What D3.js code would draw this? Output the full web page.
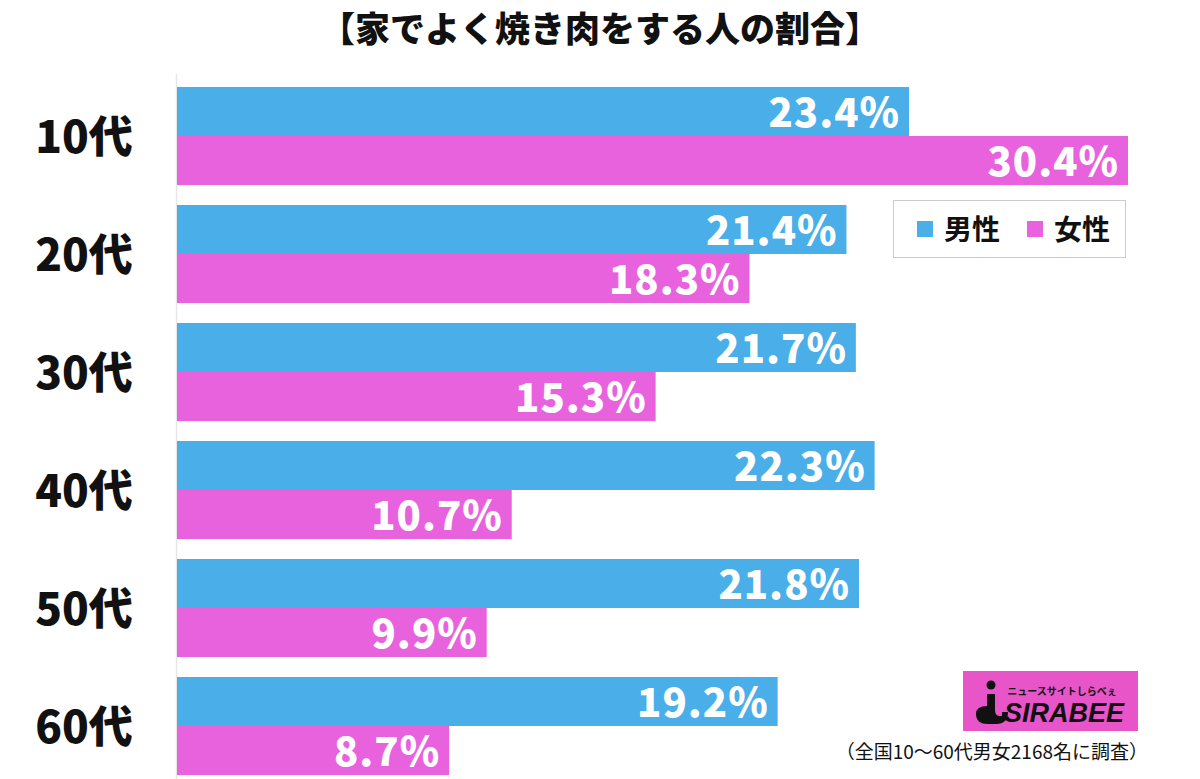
<!DOCTYPE html>
<html><head><meta charset="utf-8">
<script src="https://cdn.jsdelivr.net/npm/d3@7/dist/d3.min.js"></script>
<style>body{margin:0;background:#fff;}svg{display:block;}</style>
</head><body>
<script>
const title = "【家でよく焼き肉をする人の割合】";
const categories = ["10代","20代","30代","40代","50代","60代"];
const seriesNames = ["男性","女性"];
const male = [23.4, 21.4, 21.7, 22.3, 21.8, 19.2];
const female = [30.4, 18.3, 15.3, 10.7, 9.9, 8.7];
const colors = ["#4aaee8", "#e862de"];
const footnote = "（全国10〜60代男女2168名に調査）";

const W = 1200, H = 779;
const svg = d3.select("body").append("svg").attr("width", W).attr("height", H);
const FONT = "'Noto Sans CJK JP','Noto Sans',sans-serif";

const x = d3.scaleLinear().domain([0, 30.4]).range([177, 1128]);
const y0 = d3.scaleBand().domain(categories).range([87, 775]).paddingInner(20/118).paddingOuter(0);
const y1 = d3.scaleBand().domain(seriesNames).range([0, y0.bandwidth()]);

// axis line
svg.append("line").attr("x1", 176.5).attr("x2", 176.5).attr("y1", 74).attr("y2", H)
  .attr("stroke", "#e6e6e6").attr("stroke-width", 1.5);

// title
svg.append("text").attr("x", 600).attr("y", 42).attr("text-anchor", "middle")
  .attr("font-family", FONT).attr("font-weight", 900).attr("font-size", 35).attr("fill", "#111")
  .text(title);

const data = categories.map((c, i) => ({cat: c, vals: [male[i], female[i]]}));
const g = svg.selectAll("g.grp").data(data).join("g").attr("class", "grp")
  .attr("transform", d => `translate(0,${y0(d.cat)})`);

g.selectAll("rect").data(d => d.vals.map((v, j) => ({v, s: seriesNames[j], j})))
  .join("rect")
  .attr("x", x(0)).attr("y", d => y1(d.s)).attr("width", d => x(d.v) - x(0))
  .attr("height", y1.bandwidth()).attr("fill", d => colors[d.j]);

g.selectAll("text.val").data(d => d.vals.map((v, j) => ({v, s: seriesNames[j], j})))
  .join("text").attr("class", "val")
  .attr("x", d => x(d.v) - 9).attr("y", d => y1(d.s) + y1.bandwidth()/2 + 15)
  .attr("text-anchor", "end").attr("fill", "#fff")
  .attr("font-family", FONT).attr("font-weight", 900).attr("font-size", 40)
  .attr("letter-spacing", 1)
  .text(d => d.v.toFixed(1) + "%");

g.append("text").attr("x", 84).attr("y", y0.bandwidth()/2 + 17)
  .attr("text-anchor", "middle").attr("fill", "#111")
  .attr("font-family", FONT).attr("font-weight", 900).attr("font-size", 44)
  .text(d => d.cat);

// legend
const lg = svg.append("g");
lg.append("rect").attr("x", 893.5).attr("y", 200.5).attr("width", 232).attr("height", 57)
  .attr("fill", "#fff").attr("stroke", "#999").attr("stroke-width", 1).attr("stroke-dasharray", "1,1");
seriesNames.forEach((s, i) => {
  const lx = 917 + i * 110;
  lg.append("rect").attr("x", lx).attr("y", 221).attr("width", 16).attr("height", 16).attr("fill", colors[i]);
  lg.append("text").attr("x", lx + 27).attr("y", 240).attr("font-family", FONT).attr("font-weight", 700)
    .attr("font-size", 28).attr("fill", "#111").text(s);
});

// logo
const lo = svg.append("g");
lo.append("rect").attr("x", 963).attr("y", 671).attr("width", 175).attr("height", 60).attr("fill", "#e855c8");
lo.append("circle").attr("cx", 991).attr("cy", 685).attr("r", 4.5).attr("fill", "#111");
lo.append("path").attr("d", "M987,694 L995,694 L995,710 Q995,716 1000,716 L1002,716 L1002,712 L1008,712 Q1008,724 996,724 L988,724 Q976,724 976,714 Q976,706 987,706 Z").attr("fill", "#111");
lo.append("text").attr("x", 1062).attr("y", 695).attr("text-anchor", "middle").attr("font-family", FONT)
  .attr("font-weight", 700).attr("font-size", 10).attr("fill", "#111").text("ニュースサイトしらべぇ");
lo.append("text").attr("x", 1064).attr("y", 722).attr("text-anchor", "middle").attr("font-family", "'Liberation Sans',sans-serif")
  .attr("font-weight", 700).attr("font-style", "italic").attr("font-size", 27).attr("fill", "#111").text("SIRABEE");

// footnote
svg.append("text").attr("x", 1148).attr("y", 759).attr("text-anchor", "end").attr("font-family", FONT)
  .attr("font-weight", 400).attr("font-size", 19).attr("fill", "#111").text(footnote);
</script>
</body></html>
